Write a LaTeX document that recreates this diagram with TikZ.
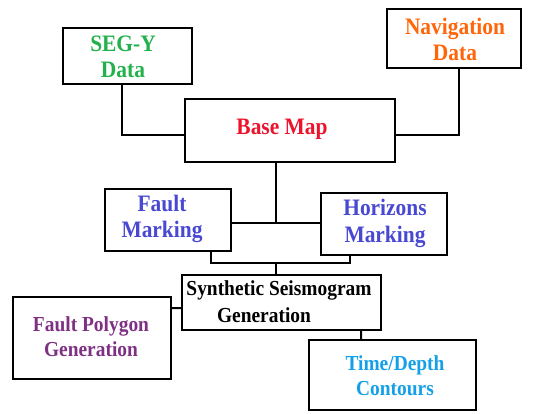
\documentclass[tikz,border=0pt]{standalone}
\usepackage{fontspec}
\setmainfont{Liberation Serif}
\usetikzlibrary{calc}
\definecolor{segygreen}{RGB}{34,177,76}
\definecolor{navorange}{RGB}{255,102,10}
\definecolor{basered}{RGB}{236,20,44}
\definecolor{markblue}{RGB}{72,72,210}
\definecolor{polypurple}{RGB}{128,48,132}
\definecolor{contourblue}{RGB}{20,160,232}
\tikzset{
  box/.style={draw=black, line width=2bp, rectangle, inner sep=0pt},
  lbl/.style={align=center, yscale=1.1, font=\bfseries\fontsize{21.5}{24}\selectfont, inner sep=0pt},
  lbls/.style={align=center, yscale=1.1, font=\bfseries\fontsize{19.5}{22.5}\selectfont, inner sep=0pt},
  link/.style={draw=black, line width=2bp},
}
\begin{document}
\begin{tikzpicture}[x=1bp, y=-1bp]
\useasboundingbox (0,0) rectangle (558,413);

% boxes
\node[box, minimum width=129bp, minimum height=56bp] (segy) at (127.5,56) {};
\node[box, minimum width=134bp, minimum height=59bp] (nav) at (454,38.5) {};
\node[box, minimum width=210bp, minimum height=63bp] (base) at (290,130.5) {};
\node[box, minimum width=126bp, minimum height=62bp] (fault) at (168,220) {};
\node[box, minimum width=126bp, minimum height=62bp] (horiz) at (384,224) {};
\node[box, minimum width=199bp, minimum height=55bp] (synth) at (281.5,302.5) {};
\node[box, minimum width=158bp, minimum height=82bp] (poly) at (92,338) {};
\node[box, minimum width=167bp, minimum height=70bp] (td) at (392.5,375) {};

% labels
\node[lbl, text=segygreen] (segyt) at (123,57) {SEG-Y\\Data};
\node[lbl, text=navorange] (navt) at (455,39.5) {Navigation\\Data};
\node[lbl, text=basered] (baset) at (282,129) {Base Map};
\node[lbl, text=markblue] (faultt) at (162,219) {Fault\\Marking};
\node[lbl, text=markblue] (horizt) at (385,223.5) {Horizons\\Marking};
\node[lbls, text=black] (syntht) at (279,290.5) {Synthetic Seismogram};
\node[lbls, text=black] (synth2t) at (264,315) {Generation};
\node[lbls, text=polypurple] (polyt) at (91,337) {Fault Polygon\\Generation};
\node[lbls, text=contourblue] (tdt) at (395,375.5) {Time/Depth\\Contours};

% junction points
\coordinate (jup) at ($(base.south)+(-14,61)$);
\coordinate (jdown) at ($(synth.north)+(-5.5,-11)$);

% connectors
\draw[link] ($(segy.south)+(-5.5,0)$) |- ($(base.west)+(0,4.5)$);
\draw[link] ($(nav.south)+(5,0)$) |- ($(base.east)+(0,4.5)$);
\draw[link] ($(base.south)+(-14,0)$) -- (jup);
\draw[link] ($(fault.east)+(0,3)$) -- ($(horiz.west)+(0,-1)$);
\draw[link] ($(fault.south)+(43,0)$) |- (jdown);
\draw[link] ($(horiz.south)+(-34,0)$) |- (jdown);
\draw[link] (jdown) -- ($(synth.north)+(-5.5,0)$);
\draw[link] ($(poly.east)+(0,-30)$) -- ($(synth.west)+(0,5.5)$);
\draw[link] ($(synth.south)+(79.5,0)$) -- ($(td.north)+(-31.5,0)$);
\end{tikzpicture}
\end{document}
